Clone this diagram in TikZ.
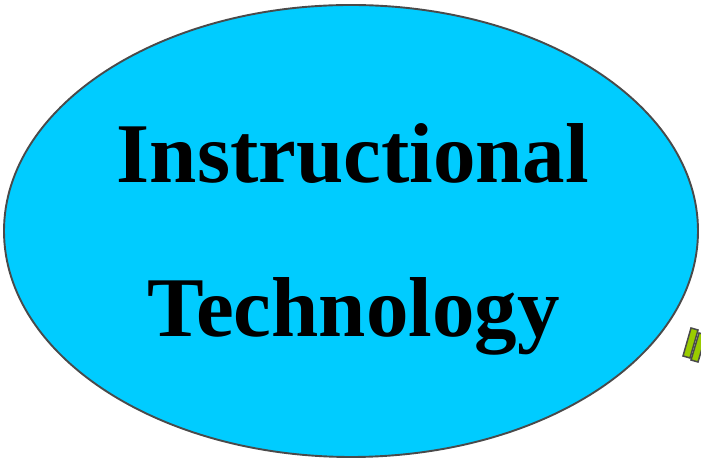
\documentclass[tikz,border=0pt]{standalone}
\usepackage{fontspec}
\setmainfont{Liberation Serif}
\usetikzlibrary{shapes.geometric}
\definecolor{ellfill}{HTML}{00CCFF}
\definecolor{edgegray}{HTML}{4A4A4A}
\definecolor{barfill}{HTML}{99CC00}
\begin{document}
\begin{tikzpicture}[x=1pt,y=1pt,
  lbl/.style={anchor=base,inner sep=0pt,font=\fontsize{85}{90}\selectfont\bfseries},
  bar/.style={fill=barfill,draw=edgegray,line width=1.5pt,line join=miter}]
\useasboundingbox (0,0) rectangle (701,462);
\node[ellipse,draw=edgegray,fill=ellfill,line width=1.9pt,minimum width=694pt,minimum height=452pt,inner sep=0pt] (ell) at (351,231) {};
\node[lbl] (l1) at (353,279) {Instructional};
\node[lbl] (l2) at (353.5,125) {Technology};
\draw[bar] (691,134) -- (698,132) -- (690,104) -- (683,106) -- cycle;
\draw[bar] (699,129) -- (706,127) -- (698,100) -- (691,102) -- cycle;
\end{tikzpicture}
\end{document}
